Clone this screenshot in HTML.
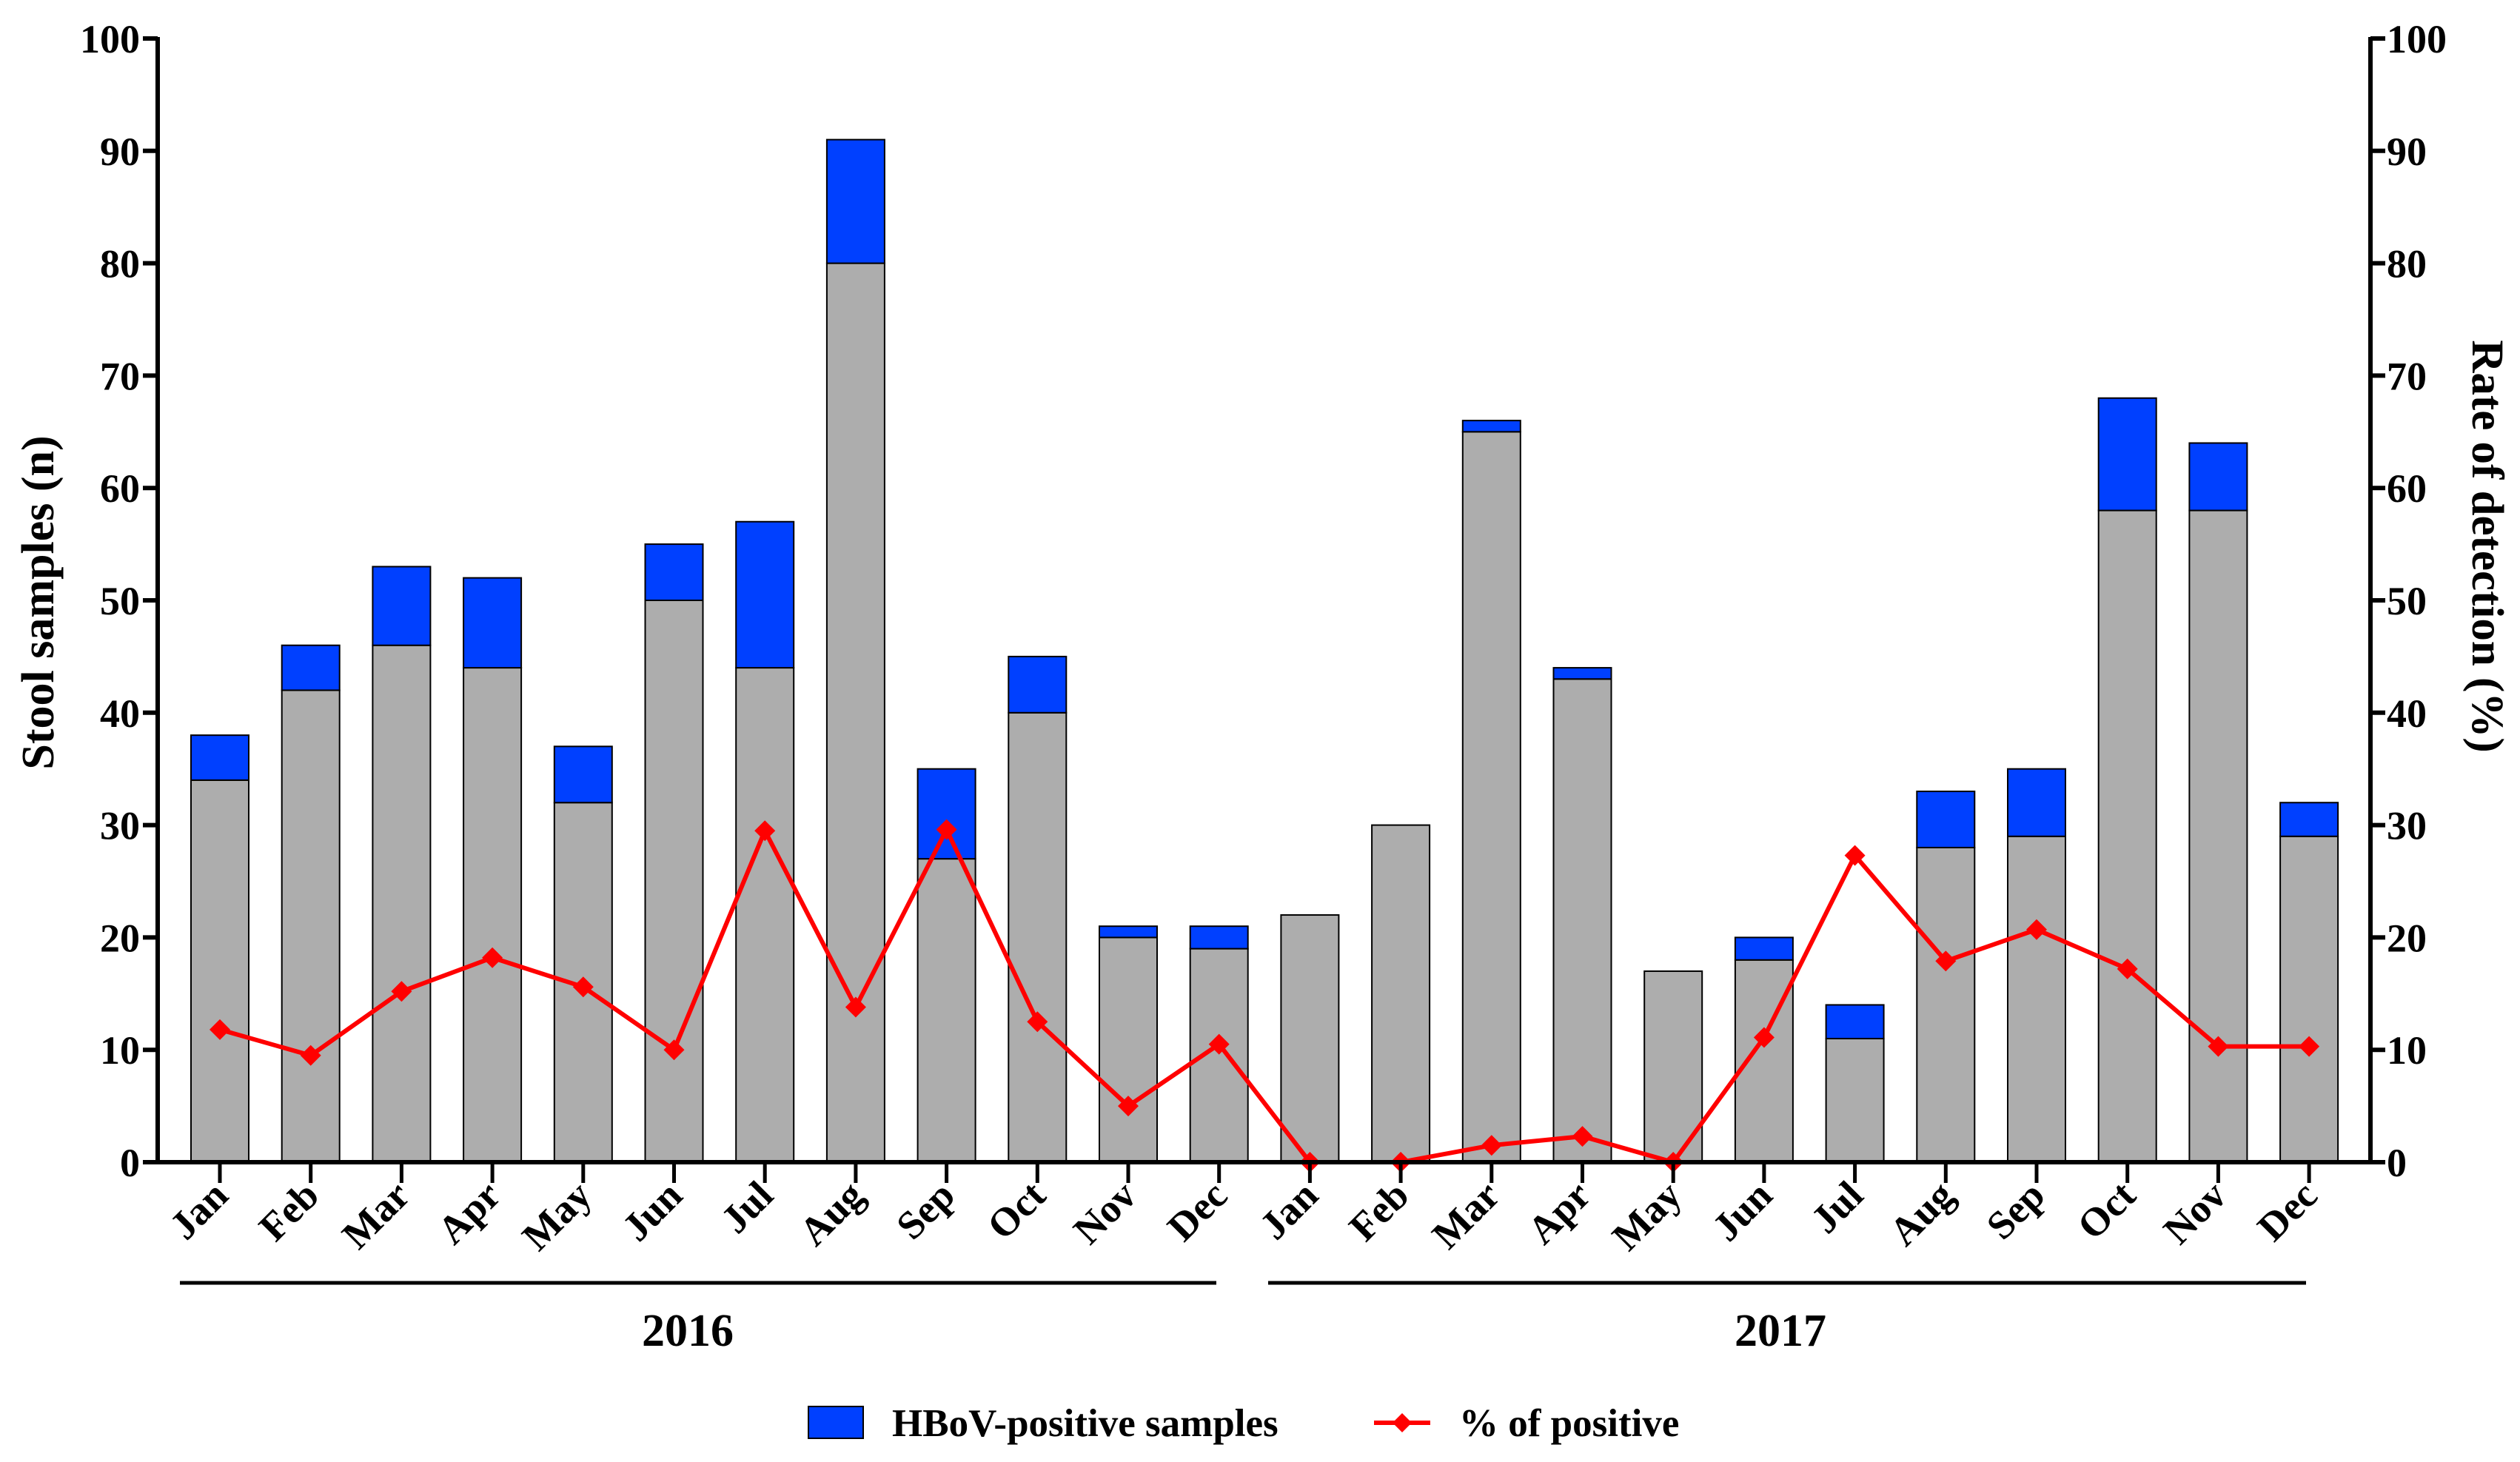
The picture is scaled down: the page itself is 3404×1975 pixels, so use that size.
<!DOCTYPE html>
<html><head><meta charset="utf-8"><style>
html,body{margin:0;padding:0;background:#fff;}
svg{display:block;font-family:"Liberation Serif",serif;font-weight:bold;}
</style></head><body>
<svg id="chart" width="3404" height="1975" viewBox="0 0 3404 1975" xmlns="http://www.w3.org/2000/svg">
<g id="bars"></g>
<g id="line"></g>
<g id="axes"></g>
<text transform="translate(72,814) rotate(-90)" text-anchor="middle" font-size="62">Stool samples (n)</text>
<text transform="translate(3340,738) rotate(90)" text-anchor="middle" font-size="61">Rate of detection (%)</text>
<line x1="243" y1="1733" x2="1643" y2="1733" stroke="#000" stroke-width="5"/>
<line x1="1713" y1="1733" x2="3115" y2="1733" stroke="#000" stroke-width="5"/>
<text x="929" y="1818" text-anchor="middle" font-size="62">2016</text>
<text x="2405" y="1818" text-anchor="middle" font-size="62">2017</text>
<g>
<rect x="1092" y="1900" width="74" height="43" fill="#0040ff" stroke="#000" stroke-width="2"/>
<text x="1205" y="1940" font-size="53">HBoV-positive samples</text>
<line x1="1856" y1="1922" x2="1932" y2="1922" stroke="#ff0000" stroke-width="6"/>
<path d="M1894 1909 L1907 1922 L1894 1935 L1881 1922 Z" fill="#ff0000"/>
<text x="1971" y="1940" font-size="53">% of positive</text>
</g>
</svg>
<script>
const months = ["Jan","Feb","Mar","Apr","May","Jun","Jul","Aug","Sep","Oct","Nov","Dec","Jan","Feb","Mar","Apr","May","Jun","Jul","Aug","Sep","Oct","Nov","Dec"];
const totalSamples = [38,46,53,52,37,55,57,91,35,45,21,21,22,30,66,44,17,20,14,33,35,68,64,32];
const negativeSamples = [34,42,46,44,32,50,44,80,27,40,20,19,22,30,65,43,17,18,11,28,29,58,58,29];
const positiveRate = [11.8,9.5,15.2,18.2,15.6,10,29.5,13.8,29.6,12.5,5,10.5,0,0,1.5,2.3,0,11.1,27.3,17.9,20.7,17.2,10.3,10.3];
const yTicks = [0,10,20,30,40,50,60,70,80,90,100];

const NS="http://www.w3.org/2000/svg";
const X0=297, STEP=122.7, BW=78, AXL=213, AXR=3202, Y0=1570, Y100=52;
const xPos=i=>X0+STEP*i;
const yPos=v=>Y0-(Y0-Y100)*v/100;
function mk(tag,attrs,parent){const e=document.createElementNS(NS,tag);for(const k in attrs)e.setAttribute(k,attrs[k]);parent.appendChild(e);return e;}
const bars=document.getElementById('bars'), line=document.getElementById('line'), axes=document.getElementById('axes');

months.forEach((m,i)=>{
  const x=xPos(i)-BW/2;
  const g=mk('rect',{x:x,y:yPos(negativeSamples[i]),width:BW,height:Y0-yPos(negativeSamples[i]),fill:'#adadad',stroke:'#000','stroke-width':2},bars);
  
  
  const b=mk('rect',{x:x,y:yPos(totalSamples[i]),width:BW,height:yPos(negativeSamples[i])-yPos(totalSamples[i]),fill:'#0040ff',stroke:'#000','stroke-width':2},bars);
  
  
});

const pts=positiveRate.map((v,i)=>xPos(i)+','+yPos(v)).join(' ');
const pl=mk('polyline',{points:pts,fill:'none',stroke:'#ff0000','stroke-width':6,'stroke-linejoin':'miter'},line);


positiveRate.forEach((v,i)=>{
  const cx=xPos(i), cy=yPos(v);
  const d=mk('path',{d:`M${cx} ${cy-14} L${cx+14} ${cy} L${cx} ${cy+14} L${cx-14} ${cy} Z`,fill:'#ff0000'},line);
  
  
});

const la=mk('line',{x1:AXL,y1:Y100-2,x2:AXL,y2:Y0+2,stroke:'#000','stroke-width':6},axes);


const ra=mk('line',{x1:AXR,y1:Y100-2,x2:AXR,y2:Y0+2,stroke:'#000','stroke-width':6},axes);


const xa=mk('line',{x1:AXL-18,y1:Y0,x2:AXR+3,y2:Y0,stroke:'#000','stroke-width':6},axes);


yTicks.forEach(t=>{
  const y=yPos(t);
  const tl=mk('line',{x1:AXL-20,y1:y,x2:AXL,y2:y,stroke:'#000','stroke-width':6},axes);
  
  
  const lt=mk('text',{x:AXL-24,y:y+19,'text-anchor':'end','font-size':54},axes);
  lt.textContent=t;
  
  
  const tr=mk('line',{x1:AXR,y1:y,x2:AXR+20,y2:y,stroke:'#000','stroke-width':6},axes);
  
  
  const rt=mk('text',{x:AXR+22,y:y+19,'text-anchor':'start','font-size':54},axes);
  rt.textContent=t;
  
  
});
months.forEach((m,i)=>{
  const x=xPos(i);
  const tk=mk('line',{x1:x,y1:Y0,x2:x,y2:Y0+28,stroke:'#000','stroke-width':5},axes);
  
  
  const lb=mk('text',{transform:`translate(${x+14},${Y0+48}) rotate(-45)`,'text-anchor':'end','font-size':54},axes);
  lb.textContent=m;
  
  
});
</script>
</body></html>
